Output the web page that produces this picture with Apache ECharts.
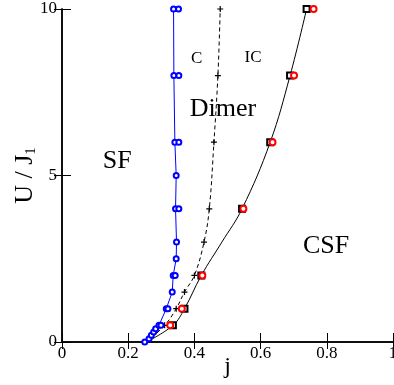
<!DOCTYPE html>
<html>
<head>
<meta charset="utf-8">
<script src="https://cdn.jsdelivr.net/npm/echarts@6/dist/echarts.min.js"></script>
<style>
  html, body { margin: 0; padding: 0; background: #fff; }
  #chart { width: 394px; height: 385px; }
</style>
</head>
<body>
<div id="chart"></div>
<script>
// phase boundaries, points are [j, U/J1]
const blueLine = [[0.25, 0], [0.263, 0.1], [0.27, 0.2], [0.277, 0.3], [0.283, 0.4], [0.293, 0.5],
  [0.315, 1], [0.333, 1.5], [0.336, 2], [0.345, 2.5], [0.346, 3], [0.343, 4], [0.345, 5],
  [0.341, 6], [0.338, 8], [0.337, 10]]
const blueExtra = [[0.299, 0.5], [0.32, 1], [0.342, 2], [0.353, 4], [0.353, 6], [0.353, 8], [0.352, 10]]
const dashedLine = [[0.255, 0], [0.31, 0.5], [0.345, 1], [0.37, 1.5], [0.4, 2], [0.429, 3],
  [0.445, 4], [0.459, 6], [0.471, 8], [0.478, 10]]
// solid curve, squares sit on every point but the first and the U=3 one
const solidLine = [[0.255, 0], [0.335, 0.5], [0.37, 1], [0.421, 2], [0.483, 3], [0.544, 4],
  [0.629, 6], [0.689, 8], [0.739, 10]]
const solidBare = [0, 4]
const redCircles = [[0.327, 0.5], [0.362, 1], [0.424, 2], [0.548, 4], [0.636, 6], [0.701, 8], [0.76, 10]]

// region labels [j, U, text, size]
const regionLabels = [
  [0.167, 5.43, 'SF', 26],
  [0.486, 6.99, 'Dimer', 26],
  [0.798, 2.88, 'CSF', 26],
  [0.407, 8.51, 'C', 17],
  [0.577, 8.53, 'IC', 17]
]

const serif = 'Liberation Serif'
const plus = 'path://M2,0H3V2H5V3H3V5H2V3H0V2H2Z'

const chart = echarts.init(document.getElementById('chart'))

function bare(data, idx) {
  return data.map((p, i) => idx.includes(i) ? { value: p, symbol: 'none' } : p)
}

const frameAxis = {
  min: 0,
  axisLine: { show: true, lineStyle: { color: '#000', width: 1.5 } },
  splitLine: { show: false }
}

const option = {
  animation: false,
  grid: { left: 62, right: 1, top: 9, bottom: 43, containLabel: false, outerBoundsMode: 'none' },
  xAxis: [
    {
      ...frameAxis,
      type: 'value', max: 1, interval: 0.2,
      axisTick: { inside: true, length: 9, lineStyle: { color: '#000' } },
      axisLabel: { color: '#000', fontFamily: serif, fontSize: 17, margin: 3 },
      name: 'j', nameLocation: 'middle', nameGap: 13, nameMoveOverlap: false,
      nameTextStyle: { color: '#000', fontFamily: serif, fontSize: 24 }
    },
    {
      ...frameAxis,
      type: 'value', max: 1, interval: 0.2, position: 'top',
      axisTick: { inside: true, length: 7, lineStyle: { color: '#000' } },
      axisLabel: { show: false }
    }
  ],
  yAxis: [
    {
      ...frameAxis,
      type: 'value', max: 10, interval: 5,
      axisTick: { inside: true, length: 9, lineStyle: { color: '#000' } },
      axisLabel: { color: '#000', fontFamily: serif, fontSize: 17, margin: 5 },
      name: '{a|U / J}{s|1}', nameLocation: 'middle', nameGap: 23, nameRotate: 90,
      nameMoveOverlap: false,
      nameTextStyle: {
        color: '#000', fontFamily: serif, fontSize: 26,
        rich: {
          a: { fontFamily: serif, fontSize: 26, color: '#000' },
          s: { fontFamily: serif, fontSize: 15, color: '#000', verticalAlign: 'bottom', padding: [12, 0, 0, 0] }
        }
      }
    },
    {
      ...frameAxis,
      type: 'value', max: 10, interval: 5, position: 'right',
      axisTick: { inside: true, length: 8, lineStyle: { color: '#000' } },
      axisLabel: { show: false }
    }
  ],
  series: [
    {
      type: 'line', data: bare(solidLine, solidBare),
      smooth: 0.4, symbol: 'emptyRect', symbolSize: 6,
      lineStyle: { color: '#000', width: 1 },
      itemStyle: { color: '#000', borderWidth: 1 }, z: 2
    },
    {
      type: 'scatter', data: redCircles, symbol: 'emptyCircle', symbolSize: 6,
      itemStyle: { color: '#f00', borderColor: '#f00', borderWidth: 1.2, opacity: 1 }, z: 3
    },
    {
      type: 'line', data: bare(dashedLine, [0]),
      smooth: 0.4, symbol: plus, symbolSize: 6,
      lineStyle: { color: '#000', width: 1, type: [4, 3] },
      itemStyle: { color: '#000' }, z: 2
    },
    {
      type: 'line', data: blueLine, symbol: 'emptyCircle', symbolSize: 5,
      lineStyle: { color: '#00f', width: 1 },
      itemStyle: { color: '#00f', borderWidth: 1 }, z: 4
    },
    {
      type: 'scatter', data: blueExtra, symbol: 'emptyCircle', symbolSize: 5,
      itemStyle: { color: '#00f', borderColor: '#00f', borderWidth: 1, opacity: 1 }, z: 4
    },
    {
      type: 'scatter', symbolSize: 0, silent: true,
      itemStyle: { opacity: 1 },
      data: regionLabels.map(r => ({
        value: [r[0], r[1]],
        label: { show: true, position: 'inside', formatter: r[2], fontSize: r[3],
          fontFamily: serif, color: '#000', opacity: 1 }
      }))
    }
  ]
}

chart.setOption(option)
</script>
</body>
</html>
